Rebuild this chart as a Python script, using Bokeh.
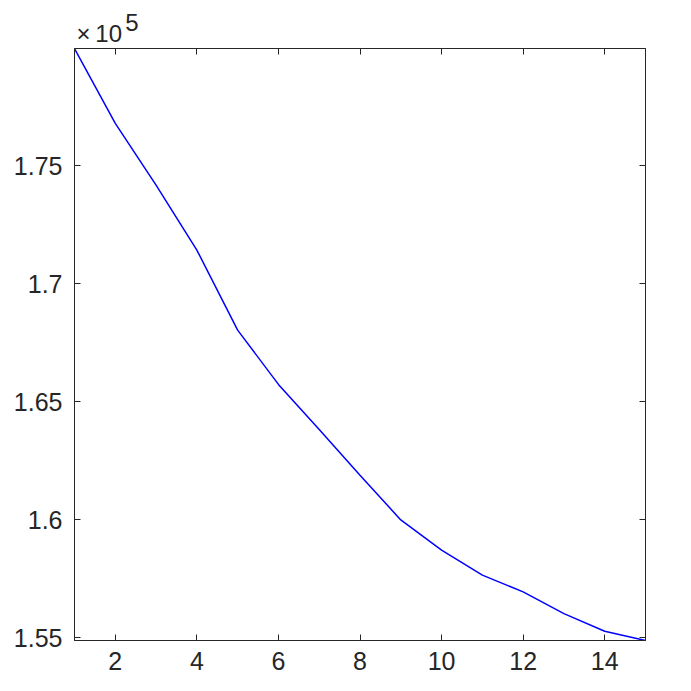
from bokeh.plotting import figure
from bokeh.models import Range1d, LinearAxis, FixedTicker, Title
from bokeh.embed import file_html
from bokeh.resources import INLINE

# data
iterations = list(range(1, 16))
values = [179970, 176800, 174180, 171430, 168040, 165740, 163830, 161890,
          160000, 158720, 157660, 156950, 156030, 155280, 154890]
x_ticks = [2, 4, 6, 8, 10, 12, 14]
y_ticks = [155000, 160000, 165000, 170000, 175000]
y_tick_labels = ["1.55", "1.6", "1.65", "1.7", "1.75"]
exponent_text = "\u00a0" * 7 + "\u200a" + "5" + "\n" + "\u00d7\u200910"

FONT = "Liberation Sans"
AX = "#262626"

p = figure(width=683, height=683, output_backend="svg", toolbar_location=None,
           x_range=Range1d(min(iterations), max(iterations)),
           y_range=Range1d(min(values), max(values)),
           min_border_left=74, min_border_top=48, min_border_right=38,
           min_border_bottom=43, x_axis_location=None, y_axis_location=None)
p.background_fill_color = "white"
p.border_fill_color = "white"
p.outline_line_color = AX
p.outline_line_width = 1
p.xgrid.visible = False
p.ygrid.visible = False

p.line(iterations, values, line_color="#0000ff", line_width=1.5)

overrides = {v: s for v, s in zip(y_ticks, y_tick_labels)}

def style(ax, labels=True):
    ax.axis_line_color = AX
    ax.axis_line_width = 1
    ax.major_tick_line_color = AX
    ax.major_tick_in = 6
    ax.major_tick_out = 0
    ax.minor_tick_line_color = None
    ax.major_label_text_font = FONT
    ax.major_label_text_font_size = "25px" if labels else "0px"
    ax.major_label_text_color = AX if labels else None

xb = LinearAxis(ticker=FixedTicker(ticks=x_ticks))
style(xb)
xb.major_label_standoff = 11
p.add_layout(xb, "below")

xt = LinearAxis(ticker=FixedTicker(ticks=x_ticks))
style(xt, labels=False)
xt.major_label_standoff = 0
p.add_layout(xt, "above")

yl = LinearAxis(ticker=FixedTicker(ticks=y_ticks))
style(yl)
yl.major_label_overrides = overrides
yl.major_label_standoff = 12
p.add_layout(yl, "left")

yr = LinearAxis(ticker=FixedTicker(ticks=y_ticks))
style(yr, labels=False)
yr.major_label_standoff = 0
p.add_layout(yr, "right")

t1 = Title(text=exponent_text, align="left", offset=2, standoff=3,
           text_font=FONT, text_font_size="24px", text_font_style="normal",
           text_color=AX, text_line_height=0.42)
p.add_layout(t1, "above")

open("out.html", "w").write(file_html(p, INLINE))
